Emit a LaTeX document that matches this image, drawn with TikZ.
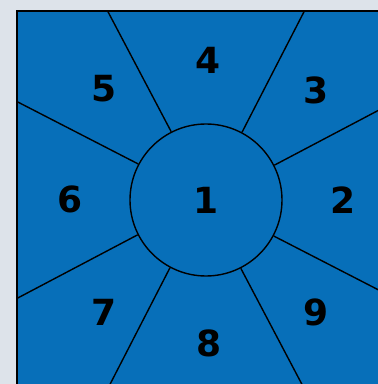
\documentclass[tikz,border=0pt]{standalone}
\usepackage{fontspec}
\usetikzlibrary{calc}
\newfontfamily\digitfont{DejaVu Sans}
\definecolor{bg}{HTML}{DDE3EA}
\definecolor{tileblue}{HTML}{076FB9}
\begin{document}
\begin{tikzpicture}[x=1pt,y=1pt,
  spoke/.style={draw=black,line width=1.4pt},
  num/.style={font=\digitfont\bfseries\fontsize{36}{36}\selectfont,text=black,inner sep=0pt,anchor=center}]
\useasboundingbox (0,0) rectangle (378,384);
\fill[bg] (0,0) rectangle (378,384);
\begin{scope}
\clip (0,0) rectangle (378,384);
\fill[tileblue,draw=black,line width=1.8pt] (17,373) rectangle (395,-5);
\node[circle,draw=black,line width=1.4pt,minimum size=152pt,inner sep=0pt] (c) at (206,184) {};
\coordinate (e1) at ($(c.center)+(189,98.4)$);
\coordinate (e2) at ($(c.center)+(98.4,189)$);
\coordinate (e3) at ($(c.center)+(-98.4,189)$);
\coordinate (e4) at ($(c.center)+(-189,98.4)$);
\coordinate (e5) at ($(c.center)+(-189,-98.4)$);
\coordinate (e6) at ($(c.center)+(-98.4,-189)$);
\coordinate (e7) at ($(c.center)+(98.4,-189)$);
\coordinate (e8) at ($(c.center)+(189,-98.4)$);
\draw[spoke] (c.27.5) -- (e1);
\draw[spoke] (c.62.5) -- (e2);
\draw[spoke] (c.117.5) -- (e3);
\draw[spoke] (c.152.5) -- (e4);
\draw[spoke] (c.207.5) -- (e5);
\draw[spoke] (c.242.5) -- (e6);
\draw[spoke] (c.297.5) -- (e7);
\draw[spoke] (c.332.5) -- (e8);
\end{scope}
\node[num] (n1) at (206,184) {1};
\node[num] (n2) at (343,184) {2};
\node[num] (n3) at (316,294) {3};
\node[num] (n4) at (208,324) {4};
\node[num] (n5) at (104,295) {5};
\node[num] (n6) at (70,185) {6};
\node[num] (n7) at (104,72) {7};
\node[num] (n8) at (209,41) {8};
\node[num] (n9) at (316,72) {9};
\end{tikzpicture}
\end{document}
